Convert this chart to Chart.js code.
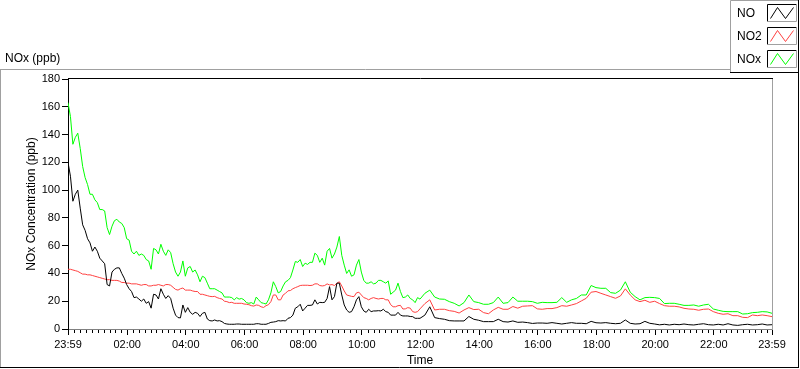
<!DOCTYPE html>
<html><head><meta charset="utf-8">
<script src="https://cdn.jsdelivr.net/npm/chart.js@4.4.1/dist/chart.umd.min.js"></script>
<style>html,body{margin:0;padding:0;background:#fff;}canvas{display:block;}</style>
</head><body>
<canvas id="c" width="800" height="369"></canvas>
<script>
// ---- sample times: minutes after 23:59 (5-min samples until 11:59, then 10-min) ----
const TIME_MIN = [];
for (let m = 0; m <= 720; m += 5) TIME_MIN.push(m);
for (let m = 730; m <= 1440; m += 10) TIME_MIN.push(m);

const NO_PPB = [
120,110,92,97,100,87,75,71,65,62,56,59,
56,51,49,47,32,31,41,43,44,44,40,36.6,
32,29,27,22.6,23,21.6,20,21.6,18.5,19.7,15,25,
24.5,21.6,29,25,22,24,22,15,10,8.2,8,17.3,
12,15.4,12,10.6,12,11.3,9,11.3,12,7.2,6,5.8,
6.5,5.8,6,5.3,4,3.6,3.4,3.4,3.4,3.6,3.6,3.4,
3.4,3.4,3.4,3.4,3.4,3.8,3.8,3.4,3.4,3.4,4,4.8,
5,5.3,6,5.8,6,5.8,7.7,8.2,10,15,16,17.8,
13,15,17,17,17.3,21,18,19.2,19,19.2,22,30.5,
21,23.3,33,33,24.5,17.3,13.7,12,12.5,16,21,23.3,
16,13,12,14.2,12.5,13,13,13.2,13,14.2,12.5,12,
10,10,10,12,10,9.4,9.4,9.4,9,8.9,7.7,7.7,
7.7,
10,16,8.2,7.5,7,6,5.8,5.8,5.8,9,7,6.3,5.3,5.3,5.3,7,5.3,5,5.8,4.8,5,4.6,4,4.3,
4.3,4.1,4.6,4.1,3.6,4.1,4.6,4.1,4.1,3.8,5.5,4.5,4.3,4.6,4.1,3.8,4.1,6.5,4.1,3.6,3.8,5.5,4.1,3.6,
3,3.4,2.9,3.4,3.1,3.6,3.1,2.9,3.4,3.8,3.1,2.9,3.4,2.9,3.8,2.9,2.6,3.1,3.4,2.9,3.1,3.6,2.9,3.1];

const NO2_PPB = [
43,43,42.5,42,41.5,40.5,39.5,39.5,39,39,38.5,38,
37.5,37,36.5,36,35.5,35.5,35,35,35,34.5,33.5,33.5,
33,33,32.5,32.5,32.5,32,31.5,32,32,31,31,31.5,
31.5,32,31.5,31,32,32,31.5,30,28.5,28,29,29.5,
28,28,28,27.4,27,27,25,25,24.5,24,23.5,23.3,
23.5,22.6,22,21.6,20,19.7,19,19.2,18.5,18.5,18.5,18.5,
18,17.8,17.5,16.8,16.5,17.3,17,16,15.5,16.8,17.5,19.7,
24.5,24.5,21,21,24.5,25.7,27.5,27.7,29,29.8,30.5,31.3,
31.5,31.5,31.5,31.3,31.5,32.5,32.5,31.3,31,31.3,32.5,31.7,
32,31.3,33,34,31,27.4,24.5,24,23.5,23.3,26,26.5,
24.5,22.6,22,21,22,22.6,22,21.6,22,22,21,21,
17.5,16,16,16.8,17,14.4,14.5,15.4,15,12.5,12,12.5,
14.5,
18.3,21,13.7,14.2,14.2,13.2,12.7,11.5,13.7,15.4,14,14.2,11.8,11,13.7,15.6,14.2,14.2,16.2,15,16.4,16.6,16.8,14.5,
14.2,14.7,14.7,15.4,16.8,16.4,17.3,18.3,20.2,22.1,26.5,27,25.7,24.5,23.3,22.1,23.8,28.9,24.5,21,19.7,20.7,19.2,20,
18.3,16.8,16.4,16.4,15.9,14.9,14.4,14.2,13.5,14.2,14.4,12.5,11.3,10.6,11,9.6,9.6,8.4,8.2,10.1,9.6,10.1,9.6,8.9];

const NOX_PPB = [
163,153,133,138,141,130,117,109,104,97,97,93,
91,86,86,85,73,68,74,78,79,77,76,73,
65,64,56,54,56,53,54,53,50,49,43,58,
57,54,61,56,53,57,55,47,41,38,41,49,
38,44,45,41,42.5,39,34,38,37,33,29,29,
29,28,27,26,23,23,23,22.6,21,22.6,21.5,22,
21,19,18.5,19,18,23,21,19,18.5,18,21,26,
34,30.5,26,27,31,34,35,37,42.5,48.6,48,50,
45,47.4,46.5,48,48,54.6,53,48,51,46,56,58,
51,54,59,66.6,53,46,40,42.6,38,39,46,50,
41,35,33,33,34,32.5,33,35,35,34,33,34.6,
25,26.5,28,33,27,22.6,23,24.5,22,21,19,22.6,
21.5,
25.7,28,23,21.6,21.4,19.7,18.5,16.6,19,24.5,19.7,19,17.8,17.8,19,23,18.5,19,23,20,20,20,19.7,18.5,
19.2,19,19,19.2,22.6,19.2,21,22,24.5,24.5,31.3,29.8,29.3,29.3,26.2,25.7,28,34,26.5,23.3,21,22.6,22.8,22.6,
22,18.3,18.5,18.5,17.8,17,17,17.3,16.4,17.3,17.8,14.4,13.5,12.7,12.5,12.5,12.5,10.8,11,11.8,12,12.5,12.3,11.3];

const X_TICK_MIN = [0,121,241,361,481,601,721,841,961,1081,1201,1321,1440];
const X_TICK_LABELS = ['23:59','02:00','04:00','06:00','08:00','10:00','12:00','14:00','16:00','18:00','20:00','22:00','23:59'];
const X_MINOR_STEP_MIN = 12;
const Y_TICKS = [0,20,40,60,80,100,120,140,160,180];
const SERIES_NAMES = ['NO','NO2','NOx'];

const FONT = 'Liberation Sans, Arial, sans-serif';
const toPoints = vals => vals.map((v,i)=>({x:TIME_MIN[i], y:v}));

const minorTicks = [];
for (let m = 1; m < 1440; m += X_MINOR_STEP_MIN) if (!X_TICK_MIN.includes(m)) minorTicks.push(m);

const framePlugin = {
  id:'frame',
  beforeDraw(chart){
    const c = chart.ctx; c.save(); c.fillStyle='#fff'; c.fillRect(0,0,chart.width,chart.height); c.restore();
  },
  afterDraw(chart){
    const c = chart.ctx, a = chart.chartArea, xs = chart.scales.x;
    c.save();
    c.lineWidth = 1;
    c.strokeStyle = '#000';
    c.beginPath();
    minorTicks.forEach(m=>{ const px = Math.round(xs.getPixelForValue(m))+0.5; c.moveTo(px,a.bottom+1); c.lineTo(px,a.bottom+4); });
    c.stroke();
    c.beginPath(); c.strokeStyle='#000'; c.moveTo(a.left,a.top-0.5); c.lineTo(a.right+1,a.top-0.5); c.stroke();
    c.beginPath(); c.strokeStyle='#a0a0a0'; c.moveTo(a.right+0.5,a.top); c.lineTo(a.right+0.5,a.bottom+1); c.stroke();
    c.beginPath(); c.strokeStyle='#a0a0a0'; c.moveTo(0,69.5); c.lineTo(731,69.5); c.moveTo(0.5,69.5); c.lineTo(0.5,368); c.stroke();
    c.beginPath(); c.strokeStyle='#000'; c.moveTo(798.5,70); c.lineTo(798.5,368); c.moveTo(0,367.5); c.lineTo(799,367.5); c.stroke();
    c.fillStyle='#000'; c.font='12px '+FONT; c.textBaseline='middle'; c.textAlign='left';
    c.fillText('NOx (ppb)', 5, 59);
    c.fillStyle='#fff'; c.fillRect(731,0,68,72);
    c.beginPath(); c.strokeStyle='#a0a0a0'; c.moveTo(730.5,72); c.lineTo(730.5,0.5); c.lineTo(798,0.5); c.stroke();
    c.beginPath(); c.strokeStyle='#000'; c.moveTo(798.5,0); c.lineTo(798.5,72.5); c.lineTo(730,72.5); c.stroke();
    const rows=[13,36,59];
    chart.data.datasets.forEach((ds,i)=>{
      const cy = rows[i];
      c.fillStyle='#000'; c.font='12px '+FONT; c.textBaseline='middle'; c.textAlign='left';
      c.fillText(ds.label, 737, cy+0.5);
      const x0=767.5, x1=796.5, y0=cy-8.5, y1=cy+8.5;
      c.beginPath(); c.strokeStyle='#000'; c.moveTo(x0,y1); c.lineTo(x0,y0); c.lineTo(x1,y0); c.stroke();
      c.beginPath(); c.strokeStyle='#a0a0a0'; c.moveTo(x1,y0); c.lineTo(x1,y1); c.lineTo(x0,y1); c.stroke();
      c.beginPath(); c.strokeStyle=ds.borderColor;
      c.moveTo(x0+3,y1-3); c.lineTo(x0+10,y0+3); c.lineTo(x0+18,y1-3); c.lineTo(x0+26,y0+3); c.stroke();
    });
    c.restore();
  }
};

new Chart(document.getElementById('c'), {
  type:'line',
  data:{ datasets:[
    {label:SERIES_NAMES[0], data:toPoints(NO_PPB), borderColor:'#000000', borderWidth:1, pointRadius:0, tension:0},
    {label:SERIES_NAMES[1], data:toPoints(NO2_PPB), borderColor:'#ff4040', borderWidth:1, pointRadius:0, tension:0},
    {label:SERIES_NAMES[2], data:toPoints(NOX_PPB), borderColor:'#00ff00', borderWidth:1, pointRadius:0, tension:0}
  ]},
  options:{
    responsive:false, animation:false, devicePixelRatio:1,
    layout:{padding:{top:79,right:28,bottom:0,left:0}},
    plugins:{legend:{display:false}, tooltip:{enabled:false}, title:{display:false}},
    scales:{
      x:{ type:'linear', min:0, max:1440,
        afterFit(s){ s.height = 40; },
        afterBuildTicks(s){ s.ticks = X_TICK_MIN.map(v=>({value:v})); },
        ticks:{ autoSkip:false, maxRotation:0, minRotation:0, padding:3, color:'#000', font:{family:FONT,size:11},
          callback:(v)=>{ const i = X_TICK_MIN.indexOf(v); return i>=0 ? X_TICK_LABELS[i] : ''; } },
        grid:{ drawOnChartArea:false, drawTicks:true, tickLength:6, tickColor:'#000' },
        border:{ display:true, color:'#808080' },
        title:{ display:true, text:'Time', color:'#000', font:{family:FONT,size:12}, padding:{top:0,bottom:1} }
      },
      y:{ min:0, max:180,
        afterFit(s){ s.width = 68; },
        afterBuildTicks(s){ s.ticks = Y_TICKS.map(v=>({value:v})); },
        ticks:{ padding:2, color:'#000', font:{family:FONT,size:11} },
        grid:{ drawOnChartArea:false, drawTicks:true, tickLength:6, tickColor:'#000' },
        border:{ display:true, color:'#000' },
        title:{ display:true, text:'NOx Concentration (ppb)', color:'#000', font:{family:FONT,size:12}, padding:{top:24,bottom:0} }
      }
    }
  },
  plugins:[framePlugin]
});
</script>
</body></html>
